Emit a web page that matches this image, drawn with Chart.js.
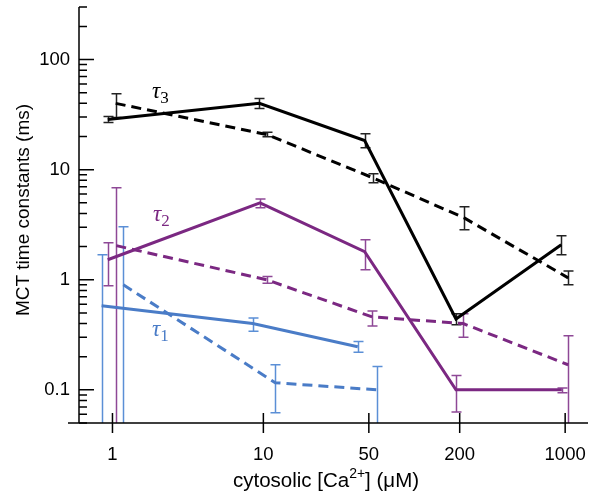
<!DOCTYPE html>
<html><head><meta charset="utf-8">
<script src="https://cdn.jsdelivr.net/npm/chart.js@4.4.0/dist/chart.umd.min.js"></script>
<style>html,body{margin:0;padding:0;background:#fff;}</style>
</head><body>
<canvas id="c" width="591" height="501" style="width:591px;height:501px;display:block"></canvas>
<script>
// ---- data ----
const xTicks = [1, 10, 50, 200, 1000];
const yTicks = [0.1, 1, 10, 100];

const tau3SolidX  = [0.93, 9.4, 46.9, 189, 942];
const tau3SolidY  = [28.5, 40, 18.4, 0.44, 2.08];
const tau3SolidLo = [26.8, 35.9, 15.8, 0.39, 1.69];
const tau3SolidHi = [30.4, 44.3, 21.2, 0.49, 2.51];

const tau3DashX  = [1.05, 10.6, 52.9, 213, 1047];
const tau3DashY  = [40, 20.8, 8.45, 3.66, 1.04];
const tau3DashLo = [29.7, 19.9, 7.6, 2.85, 0.9];
const tau3DashHi = [49, 21.8, 9.2, 4.6, 1.2];

const tau2SolidX  = [0.93, 9.5, 46.9, 189, 950];
const tau2SolidY  = [1.52, 5.0, 1.8, 0.1, 0.1];
const tau2SolidLo = [0.88, 4.5, 1.23, 0.063, 0.094];
const tau2SolidHi = [2.17, 5.4, 2.31, 0.135, 0.104];

const tau2DashX  = [1.06, 10.5, 52.6, 211, 1047];
const tau2DashY  = [2.04, 1.0, 0.46, 0.40, 0.169];
const tau2DashLo = [0.01, 0.93, 0.38, 0.30, 0.01];
const tau2DashHi = [6.85, 1.07, 0.52, 0.49, 0.31];

const tau1SolidX  = [0.847, 8.5, 42.2];
const tau1SolidY  = [0.58, 0.40, 0.246];
const tau1SolidLo = [0.01, 0.34, 0.22];
const tau1SolidHi = [1.69, 0.45, 0.275];

const tau1DashX  = [1.18, 12, 57];
const tau1DashY  = [0.90, 0.116, 0.10];
const tau1DashLo = [0.01, 0.062, 0.01];
const tau1DashHi = [3.03, 0.169, 0.163];

const BLACK = '#000000', PURPLE = '#7b2882', BLUE = '#4a7cc7';
const series = [
  {x: tau1SolidX, y: tau1SolidY, lo: tau1SolidLo, hi: tau1SolidHi, color: BLUE, bar: '#5b8fd6', dash: []},
  {x: tau1DashX, y: tau1DashY, lo: tau1DashLo, hi: tau1DashHi, color: BLUE, bar: '#5b8fd6', dash: [10, 6]},
  {x: tau2SolidX, y: tau2SolidY, lo: tau2SolidLo, hi: tau2SolidHi, color: PURPLE, bar: '#8e4896', dash: []},
  {x: tau2DashX, y: tau2DashY, lo: tau2DashLo, hi: tau2DashHi, color: PURPLE, bar: '#8e4896', dash: [10, 6]},
  {x: tau3SolidX, y: tau3SolidY, lo: tau3SolidLo, hi: tau3SolidHi, color: BLACK, bar: '#222222', dash: []},
  {x: tau3DashX, y: tau3DashY, lo: tau3DashLo, hi: tau3DashHi, color: BLACK, bar: '#222222', dash: [10, 6]},
];

const FONT = '"Liberation Sans", Arial, sans-serif';
const SERIF = '"Liberation Serif", "Times New Roman", serif';

const decor = {
  id: 'decor',
  beforeDatasetsDraw(chart) {
    const {ctx, chartArea: a, scales: {x, y}} = chart;
    ctx.save();
    ctx.beginPath(); ctx.rect(a.left, a.top, a.right - a.left, a.bottom - a.top); ctx.clip();
    ctx.lineWidth = 1.5; ctx.lineCap = 'butt';
    series.forEach(s => {
      ctx.strokeStyle = s.bar;
      s.x.forEach((xv, i) => {
        const px = Math.round(x.getPixelForValue(xv)) + 0.5;
        const pl = y.getPixelForValue(s.lo[i]);
        const ph = y.getPixelForValue(s.hi[i]);
        ctx.beginPath();
        ctx.moveTo(px, pl); ctx.lineTo(px, ph);
        ctx.moveTo(px - 5, pl); ctx.lineTo(px + 5, pl);
        ctx.moveTo(px - 5, ph); ctx.lineTo(px + 5, ph);
        ctx.stroke();
      });
    });
    ctx.restore();
  },
  afterDraw(chart) {
    const {ctx, chartArea: a, scales: {x, y}} = chart;
    ctx.save();
    ctx.strokeStyle = '#000'; ctx.lineWidth = 1.5;
    // axes
    ctx.beginPath();
    ctx.moveTo(a.left, a.top); ctx.lineTo(a.left, a.bottom);
    ctx.moveTo(a.left - 11, a.bottom); ctx.lineTo(a.right, a.bottom);
    ctx.stroke();
    // y ticks (major + minor)
    ctx.beginPath();
    for (let d = -2; d <= 2; d++) {
      for (let k = 1; k <= 9; k++) {
        const v = k * Math.pow(10, d);
        if (v < y.min * 0.999 || v > y.max * 1.001) continue;
        const py = y.getPixelForValue(v);
        const len = k === 1 ? 15 : 8;
        ctx.moveTo(a.left, py); ctx.lineTo(a.left + len, py);
      }
    }
    // x ticks
    xTicks.forEach(v => {
      const px = x.getPixelForValue(v);
      ctx.moveTo(px, a.bottom - 10); ctx.lineTo(px, a.bottom + 10);
    });
    ctx.stroke();

    // tau labels
    const tau = (px, py, sub, color) => {
      ctx.fillStyle = color;
      ctx.textAlign = 'left'; ctx.textBaseline = 'alphabetic';
      ctx.font = 'italic 23px ' + SERIF;
      ctx.fillText('\u03c4', px, py);
      const w = ctx.measureText('\u03c4').width;
      ctx.font = '17px ' + SERIF;
      ctx.fillText(sub, px + w, py + 5);
    };
    tau(152, 98, '3', BLACK);
    tau(153, 221, '2', PURPLE);
    tau(152, 336, '1', BLUE);

    // axis titles
    ctx.fillStyle = '#000';
    ctx.save();
    ctx.translate(24, 210);
    ctx.rotate(-Math.PI / 2);
    ctx.font = '19px ' + FONT; ctx.textAlign = 'center'; ctx.textBaseline = 'middle';
    ctx.fillText('MCT time constants (ms)', 0, 0);
    ctx.restore();

    const parts = [['cytosolic [Ca', 20.5, 0], ['2+', 14, -9], ['] (\u03bcM)', 20.5, 0]];
    let total = 0;
    parts.forEach(p => { ctx.font = p[1] + 'px ' + FONT; total += ctx.measureText(p[0]).width; });
    let cx = 326 - total / 2;
    ctx.textAlign = 'left'; ctx.textBaseline = 'alphabetic';
    parts.forEach(p => {
      ctx.font = p[1] + 'px ' + FONT;
      ctx.fillText(p[0], cx, 487 + p[2]);
      cx += ctx.measureText(p[0]).width;
    });
    ctx.restore();
  }
};

new Chart(document.getElementById('c'), {
  type: 'line',
  data: {
    datasets: series.map(s => ({
      data: s.x.map((xv, i) => ({x: xv, y: s.y[i]})),
      borderColor: s.color,
      borderWidth: 3,
      borderDash: s.dash,
      pointRadius: 0,
      tension: 0,
      fill: false
    }))
  },
  options: {
    responsive: false,
    animation: false,
    devicePixelRatio: 1,
    layout: {padding: {left: 0, top: 7, right: 3, bottom: 0}},
    plugins: {legend: {display: false}, tooltip: {enabled: false}},
    scales: {
      x: {
        type: 'logarithmic', min: 0.6346, max: 1417,
        grid: {display: false, drawTicks: false}, border: {display: false},
        afterBuildTicks: s => { s.ticks = xTicks.map(v => ({value: v})); },
        afterFit: s => { s.height = 78; s.paddingLeft = 0; s.paddingRight = 0; s.paddingTop = 0; s.paddingBottom = 0; },
        ticks: {autoSkip: false, maxRotation: 0, padding: 21, color: '#000',
          font: {family: FONT, size: 18.5}, callback: v => String(v)}
      },
      y: {
        type: 'logarithmic', min: 0.05, max: 300,
        grid: {display: false, drawTicks: false}, border: {display: false},
        afterBuildTicks: s => { s.ticks = yTicks.map(v => ({value: v})); },
        afterFit: s => { s.width = 79; s.paddingLeft = 0; s.paddingRight = 0; s.paddingTop = 0; s.paddingBottom = 0; },
        ticks: {autoSkip: false, padding: 9, color: '#000',
          font: {family: FONT, size: 18.5}, callback: v => String(v)}
      }
    }
  },
  plugins: [decor]
});
</script>
</body></html>
